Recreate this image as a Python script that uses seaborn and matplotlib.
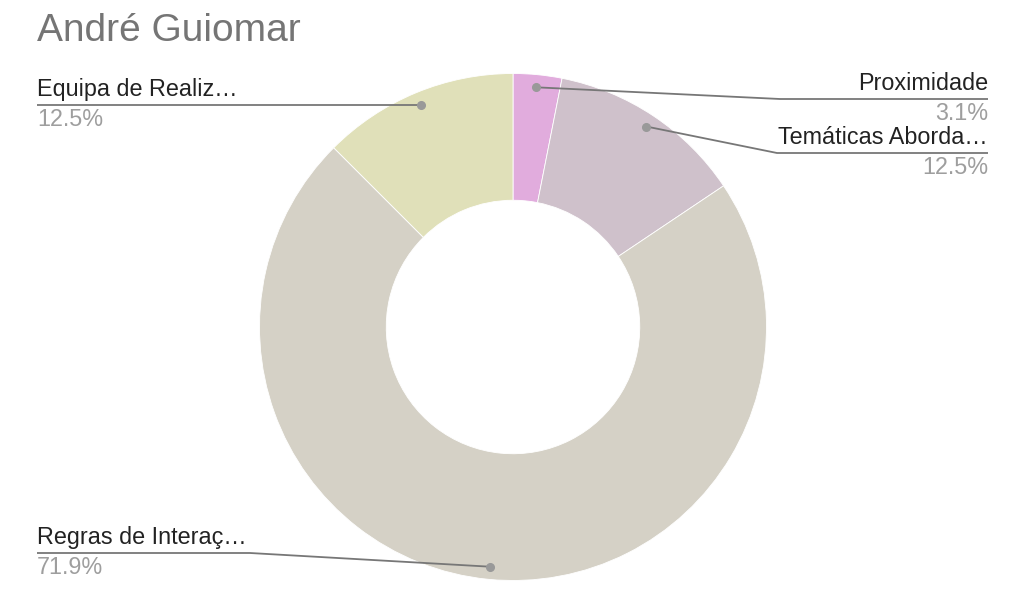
import numpy as np
import seaborn as sns
import matplotlib.pyplot as plt

labels = ['Proximidade', 'Temáticas Aborda…', 'Regras de Interaç…', 'Equipa de Realiz…']
values = [3.1, 12.5, 71.9, 12.5]
pct_labels = ['3.1%', '12.5%', '71.9%', '12.5%']
colors = ['#e1acdd', '#cfc1cb', '#d5d1c6', '#e0e0b9']

sns.set_theme(style='white')
plt.rcParams['font.family'] = ['Liberation Sans', 'DejaVu Sans']

W, H = 1017, 604
fig = plt.figure(figsize=(W / 100, H / 100), dpi=100)
ax = fig.add_axes([0, 0, 1, 1])

cx, cy, R = 513, H - 327, 253.5
wedges, _ = ax.pie(values, colors=colors, startangle=90, counterclock=False,
                   radius=R, center=(cx, cy),
                   wedgeprops=dict(width=R * 0.5, edgecolor='white', linewidth=0.6))

ax.set_xlim(0, W)
ax.set_ylim(0, H)
ax.set_aspect('equal')
ax.axis('off')

# leader line layout: elbow x, line y (from top), end x, alignment
layout = [
    (780, 99, 988, 'right'),
    (777, 153, 988, 'right'),
    (250, 553, 37, 'left'),
    (None, None, 37, 'left'),
]

line_col = '#777777'
for w, lab, pct, (ex, ly, endx, ha) in zip(wedges, labels, pct_labels, layout):
    ang = np.deg2rad((w.theta1 + w.theta2) / 2)
    dx = cx + 0.95 * R * np.cos(ang)
    dy = cy + 0.95 * R * np.sin(ang)
    if ex is None:
        ex, y = dx, dy
    else:
        y = H - ly
    ax.plot([dx, ex, endx], [dy, y, y], color=line_col, lw=1.3, solid_capstyle='butt', zorder=3)
    ax.plot(dx, dy, 'o', color='#999999', ms=5.5, zorder=4)
    ax.text(endx, y + 4, lab, ha=ha, va='bottom', fontsize=16.8, color='#222222')
    ax.text(endx, y - 3, pct, ha=ha, va='top', fontsize=16.8, color='#9e9e9e')

fig.text(37 / W, 1 - 31 / H, 'André Guiomar', ha='left', va='center',
         fontsize=28, color='#757575')

fig.savefig('out.png', dpi=100, facecolor='white')
